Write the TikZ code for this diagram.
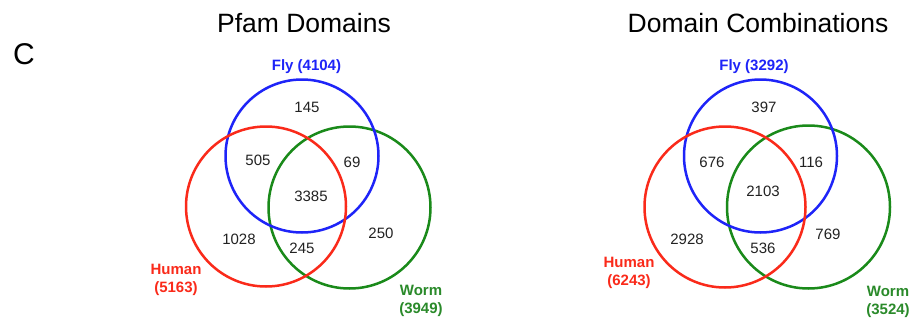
\documentclass[tikz,border=0pt]{standalone}
\usepackage{fontspec}
\setmainfont{Liberation Sans}
\definecolor{flyblue}{HTML}{1E24F8}
\definecolor{humanred}{HTML}{FA2A1A}
\definecolor{wormgreen}{HTML}{1A8A1A}
\definecolor{wormtext}{HTML}{2A8A2A}
\definecolor{numgray}{HTML}{222222}
\tikzset{
  x=1pt, y=-1pt,
  setring/.style={circle, draw, line width=2.5pt, inner sep=0pt, outer sep=0pt},
  count/.style={font=\fontsize{15}{16}\selectfont, text=numgray, inner sep=0pt},
  setlabel/.style={font=\fontsize{15}{18.5}\selectfont\bfseries, align=center, inner sep=0pt},
  heading/.style={font=\fontsize{26.5}{30}\selectfont, inner sep=0pt},
}
\begin{document}
\begin{tikzpicture}
\useasboundingbox (0,0) rectangle (911,322);
\fill[white] (0,0) rectangle (911,322);

\node[font=\fontsize{30}{32}\selectfont, inner sep=0pt] (panel) at (24,54) {C};

% Pfam domains (worm ring below, human ring on top)
\node[heading] (titleA) at (304,23) {Pfam Domains};
\node[setring, draw=wormgreen, minimum size=162] (wormA) at (349.5,207.5) {};
\node[setring, draw=flyblue, minimum size=153] (flyA) at (302,156) {};
\node[setring, draw=humanred, minimum size=160] (humanA) at (266,206.5) {};
\node[setlabel, text=flyblue] (flyAlab) at (306.5,67) {Fly (4104)};
\node[setlabel, text=humanred] (humanAlab) at (176,280) {Human\\(5163)};
\node[setlabel, text=wormtext] (wormAlab) at (421,301) {Worm\\(3949)};
\node[count] (a1) at (307,107) {145};
\node[count] (a2) at (258,160) {505};
\node[count] (a3) at (352,162) {69};
\node[count] (a4) at (311,196) {3385};
\node[count] (a5) at (239,239) {1028};
\node[count] (a6) at (302,248) {245};
\node[count] (a7) at (381,233) {250};

% Domain combinations
\node[heading] (titleB) at (758,23) {Domain Combinations};
\node[setring, draw=wormgreen, minimum size=163] (wormB) at (808.5,207) {};
\node[setring, draw=flyblue, minimum size=153] (flyB) at (760.5,156) {};
\node[setring, draw=humanred, minimum size=161] (humanB) at (725,207) {};
\node[setlabel, text=flyblue] (flyBlab) at (754,67) {Fly (3292)};
\node[setlabel, text=humanred] (humanBlab) at (629,273) {Human\\(6243)};
\node[setlabel, text=wormtext] (wormBlab) at (888,302) {Worm\\(3524)};
\node[count] (b1) at (764,107) {397};
\node[count] (b2) at (712,162) {676};
\node[count] (b3) at (811,162) {116};
\node[count] (b4) at (763,191) {2103};
\node[count] (b5) at (687,239) {2928};
\node[count] (b6) at (763,248) {536};
\node[count] (b7) at (828,234) {769};
\end{tikzpicture}
\end{document}
